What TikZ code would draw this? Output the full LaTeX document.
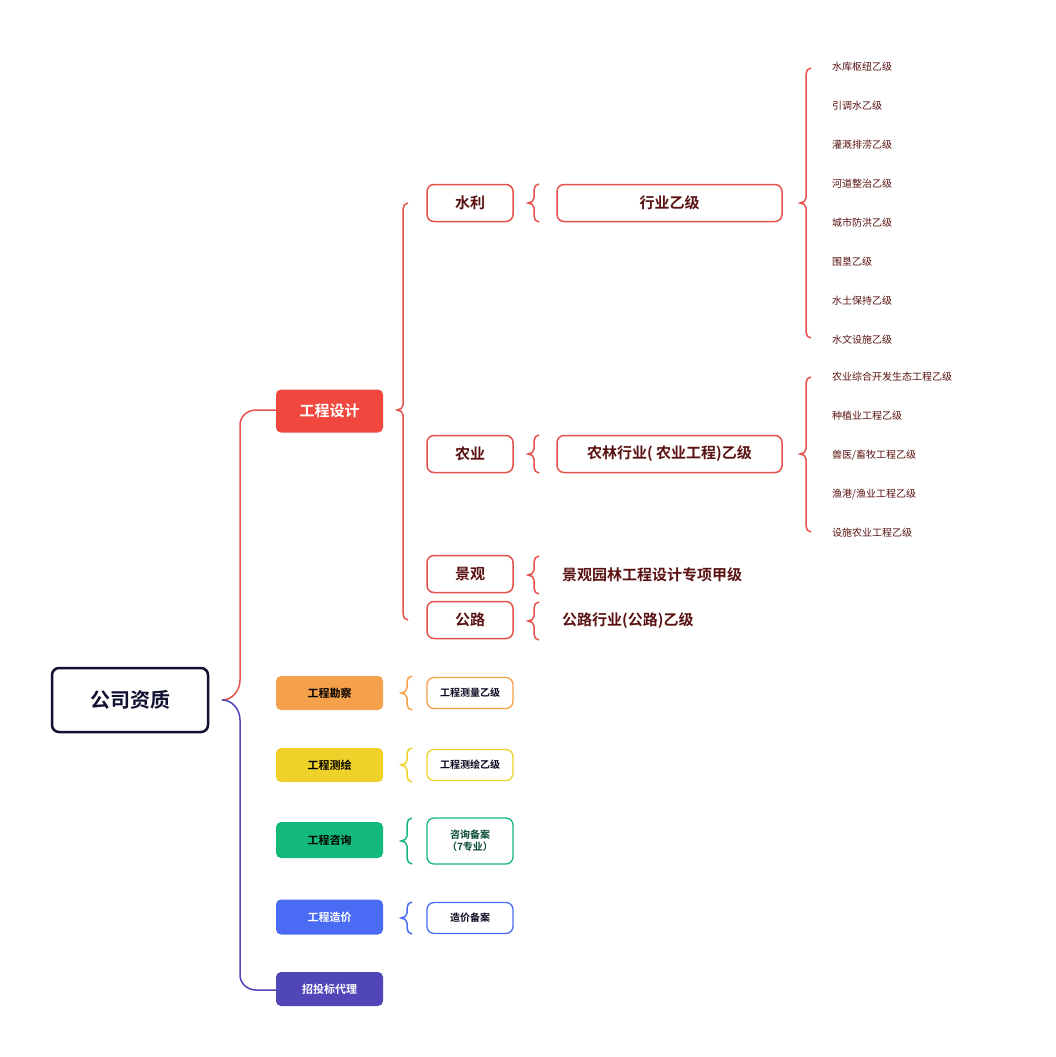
\documentclass[tikz,border=0pt]{standalone}
\usepackage{fontspec}
\setmainfont{Noto Sans CJK SC}
\newfontfamily\cjkb{Noto Sans CJK SC Bold}
\definecolor{rd}{HTML}{E5524A}
\definecolor{rdf}{HTML}{F0483E}
\definecolor{dk}{HTML}{5A1212}
\definecolor{org}{HTML}{F5A04A}
\definecolor{yel}{HTML}{EFD229}
\definecolor{grn}{HTML}{12B97A}
\definecolor{blu}{HTML}{4A6CF5}
\definecolor{pur}{HTML}{5046B8}
\definecolor{nav}{HTML}{101030}
\tikzset{x=1pt,y=-1pt,
 cat/.style={rounded corners=5pt,minimum width=107pt,inner sep=0pt,font=\cjkb\fontsize{11}{13}\selectfont},
 sub/.style={draw=rd,line width=1.5pt,rounded corners=7pt,inner sep=0pt,text=dk,font=\cjkb\fontsize{15}{18}\selectfont},
 leaf/.style={anchor=west,text=dk,inner sep=0pt,font=\fontsize{10}{12}\selectfont},
 lt/.style={anchor=west,text=dk,inner sep=0pt,font=\cjkb\fontsize{15}{18}\selectfont},
 sm/.style={draw,line width=1.3pt,rounded corners=7pt,fill=white,minimum width=86pt,inner sep=0pt,text=nav!70!black,font=\cjkb\fontsize{10}{12}\selectfont,align=center},
 br/.style={line width=1.5pt}}
\newcommand{\brc}[5][rd]{% color, x, ytop, ybot, ymid
 \draw[br,#1] (#2+5,#3) to[out=180,in=90] (#2,#3+6) -- (#2,#5-5) to[out=270,in=0] (#2-6,#5) to[out=0,in=90] (#2,#5+5) -- (#2,#4-6) to[out=270,in=180] (#2+5,#4);}
\begin{document}
\begin{tikzpicture}
\useasboundingbox[fill=white] (0,0) rectangle (1056,1057);
\node[draw=nav,line width=2.5pt,rounded corners=7pt,minimum width=156pt,minimum height=64pt,font=\cjkb\fontsize{20}{24}\selectfont,text=nav] (root) at (130,700) {公司资质};
% main brace
\draw[br,rd] (222,700) to[out=0,in=270] (240,680) -- (240,425) to[out=90,in=180] (256,410) -- (276,410);
\draw[br,pur] (222,700) to[out=0,in=90] (240,720) -- (240,975) to[out=270,in=180] (256,990) -- (276,990);
\node[cat,fill=rdf,text=white,minimum height=43pt,font=\cjkb\fontsize{15}{18}\selectfont] (gs) at (329.5,411) {工程设计};
\node[cat,fill=org,text=black,minimum height=34pt] (kc) at (329.5,693) {工程勘察};
\node[cat,fill=yel,text=black,minimum height=34pt] (ch) at (329.5,765) {工程测绘};
\node[cat,fill=grn,text=black,minimum height=36pt] (zx) at (329.5,840) {工程咨询};
\node[cat,fill=blu,text=white,minimum height=35pt] (zj) at (329.5,917) {工程造价};
\node[cat,fill=pur,text=white,minimum height=34pt] (zb) at (329.5,989) {招投标代理};
% design brace
\brc{403}{203}{620}{410}
\node[sub,minimum width=86pt,minimum height=37pt] (sl) at (470,203) {水利};
\node[sub,minimum width=86pt,minimum height=37pt] (ny) at (470,454) {农业};
\node[sub,minimum width=86pt,minimum height=37pt] (jg) at (470,574) {景观};
\node[sub,minimum width=86pt,minimum height=37pt] (gl) at (470,620) {公路};
\brc{534}{184}{222}{203}
\brc{534}{435}{473}{454}
\brc{534}{556}{594}{575}
\brc{534}{602}{640}{621}
\node[sub,minimum width=225pt,minimum height=37pt] (hy) at (669.5,203) {行业乙级};
\node[sub,minimum width=225pt,minimum height=37pt] (nl) at (669.5,454) {农林行业( 农业工程)乙级};
\node[lt] (jgt) at (562,575) {景观园林工程设计专项甲级};
\node[lt] (glt) at (562,621) {公路行业(公路)乙级};
% right braces
\brc{806}{68}{338}{203}
\brc{806}{377}{532}{454}
\foreach \t [count=\i from 0] in {水库枢纽乙级,引调水乙级,灌溉排涝乙级,河道整治乙级,城市防洪乙级,围垦乙级,水土保持乙级,水文设施乙级}
  \node[leaf] (a\i) at (832,67+39*\i) {\t};
\foreach \t [count=\i from 0] in {农业综合开发生态工程乙级,种植业工程乙级,兽医/畜牧工程乙级,渔港/渔业工程乙级,设施农业工程乙级}
  \node[leaf] (b\i) at (832,377+39*\i) {\t};
% lower
\brc[org]{407}{676}{710}{693}
\brc[yel]{407}{748}{782}{765}
\brc[grn]{407}{818}{864}{841}
\brc[blu]{407}{902}{934}{918}
\node[sm,draw=org,minimum height=31pt] (kc1) at (470,693) {工程测量乙级};
\node[sm,draw=yel,minimum height=31pt] (ch1) at (470,765) {工程测绘乙级};
\node[sm,draw=grn,minimum height=46pt,text=grn!40!black] (zx1) at (470,841) {咨询备案\\（7专业）};
\node[sm,draw=blu,minimum height=31pt] (zj1) at (470,918) {造价备案};
\end{tikzpicture}
\end{document}
